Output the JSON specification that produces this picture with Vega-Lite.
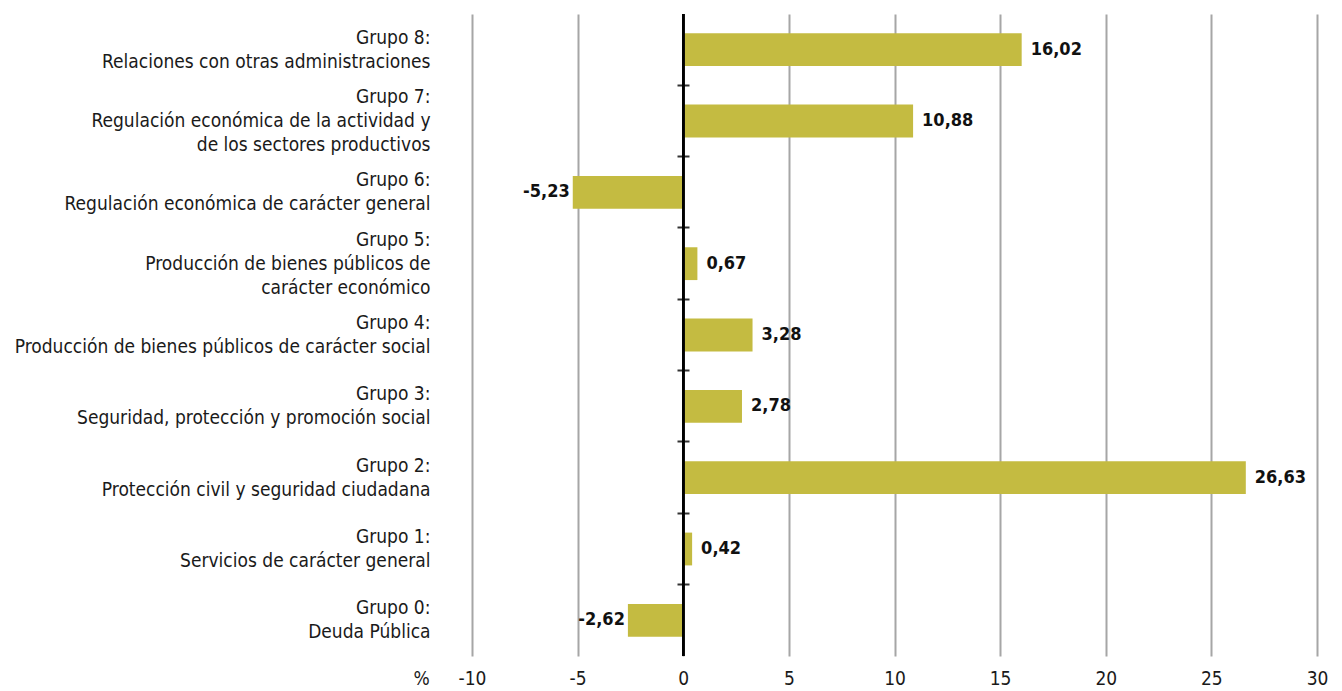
{
  "$schema": "https://vega.github.io/schema/vega-lite/v6.json",
  "autosize": {"type": "none"},
  "padding": {"left": 472, "top": 14, "right": 25, "bottom": 35},
  "width": 845,
  "height": 642,
  "background": "white",
  "config": {
    "view": {"stroke": null},
    "font": "Liberation Sans Narrow, DejaVu Sans Condensed, Roboto",
    "locale": {"number": {"decimal": ",", "thousands": ".", "grouping": [3], "currency": ["", " €"], "minus": "-"}}
  },
  "data": {"values": [
    {"grupo": "Grupo 8:|Relaciones con otras administraciones ", "valor": 16.02},
    {"grupo": "Grupo 7:|Regulación económica de la actividad y|de los sectores productivos", "valor": 10.88},
    {"grupo": "Grupo 6:|Regulación económica de carácter general", "valor": -5.23},
    {"grupo": "Grupo 5:|Producción de bienes públicos de|carácter económico", "valor": 0.67},
    {"grupo": "Grupo 4:|Producción de bienes públicos de carácter social", "valor": 3.28},
    {"grupo": "Grupo 3:|Seguridad, protección y promoción social", "valor": 2.78},
    {"grupo": "Grupo 2:|Protección civil y seguridad ciudadana", "valor": 26.63},
    {"grupo": "Grupo 1:|Servicios de carácter general", "valor": 0.42},
    {"grupo": "Grupo 0:|Deuda Pública", "valor": -2.62}
  ]},
  "resolve": {"axis": {"y": "independent"}},
  "layer": [
    {
      "mark": {"type": "bar", "color": "#C4BB41"},
      "encoding": {
        "y": {"field": "grupo", "type": "nominal", "sort": null,
          "scale": {"paddingInner": 0.54, "paddingOuter": 0.27},
          "axis": {"title": null, "orient": "left", "domain": false, "ticks": false, "grid": false,
            "labelExpr": "split(datum.label, '|')", "labelAlign": "right", "labelBaseline": "middle",
            "labelOffset": {"condition": {"test": "length(split(datum.value, '|')) > 2", "value": -24}, "value": -12},
            "labelPadding": 42, "labelFontSize": 19, "labelLineHeight": 24, "labelColor": "#1a1a1a", "labelLimit": 0}},
        "x": {"field": "valor", "type": "quantitative",
          "scale": {"domain": [-10, 30], "nice": false, "zero": false},
          "axis": {"values": [-10, -5, 0, 5, 10, 15, 20, 25, 30], "format": "d", "grid": true, "gridColor": "#A6A6A6", "gridWidth": 2,
            "domain": false, "ticks": false, "labelFlush": false, "labelPadding": 13, "labelFontSize": 19, "labelColor": "#1a1a1a",
            "title": "%", "titleX": -51, "titleY": 13, "titleAlign": "center", "titleBaseline": "top", "titleAngle": 0,
            "titleFontSize": 19, "titleFontWeight": "normal", "titleColor": "#1a1a1a"}}
      }
    },
    {
      "mark": {"type": "rule", "color": "#000000", "strokeWidth": 2},
      "encoding": {"x": {"datum": 0}}
    },
    {
      "transform": [{"filter": "datum.valor >= 0"}],
      "mark": {"type": "text", "align": "left", "baseline": "middle", "dx": 9, "fontSize": 18, "fontWeight": "bold", "color": "#111111"},
      "encoding": {
        "y": {"field": "grupo", "type": "nominal", "sort": null,
          "axis": {"title": null, "orient": "left", "offset": -217, "labels": false, "domain": false, "grid": false,
            "values": [
              "Grupo 7:|Regulación económica de la actividad y|de los sectores productivos",
              "Grupo 6:|Regulación económica de carácter general",
              "Grupo 5:|Producción de bienes públicos de|carácter económico",
              "Grupo 4:|Producción de bienes públicos de carácter social",
              "Grupo 3:|Seguridad, protección y promoción social",
              "Grupo 2:|Protección civil y seguridad ciudadana",
              "Grupo 1:|Servicios de carácter general",
              "Grupo 0:|Deuda Pública"],
            "bandPosition": -0.587, "tickSize": 12, "tickWidth": 2, "tickColor": "#333333"}},
        "x": {"field": "valor", "type": "quantitative"},
        "text": {"field": "valor", "type": "quantitative", "format": ".2f"}
      }
    },
    {
      "transform": [{"filter": "datum.valor < 0"}],
      "mark": {"type": "text", "align": "right", "baseline": "middle", "dx": -3, "fontSize": 18, "fontWeight": "bold", "color": "#111111"},
      "encoding": {
        "y": {"field": "grupo", "type": "nominal", "sort": null, "axis": null},
        "x": {"field": "valor", "type": "quantitative"},
        "text": {"field": "valor", "type": "quantitative", "format": ".2f"}
      }
    }
  ]
}
